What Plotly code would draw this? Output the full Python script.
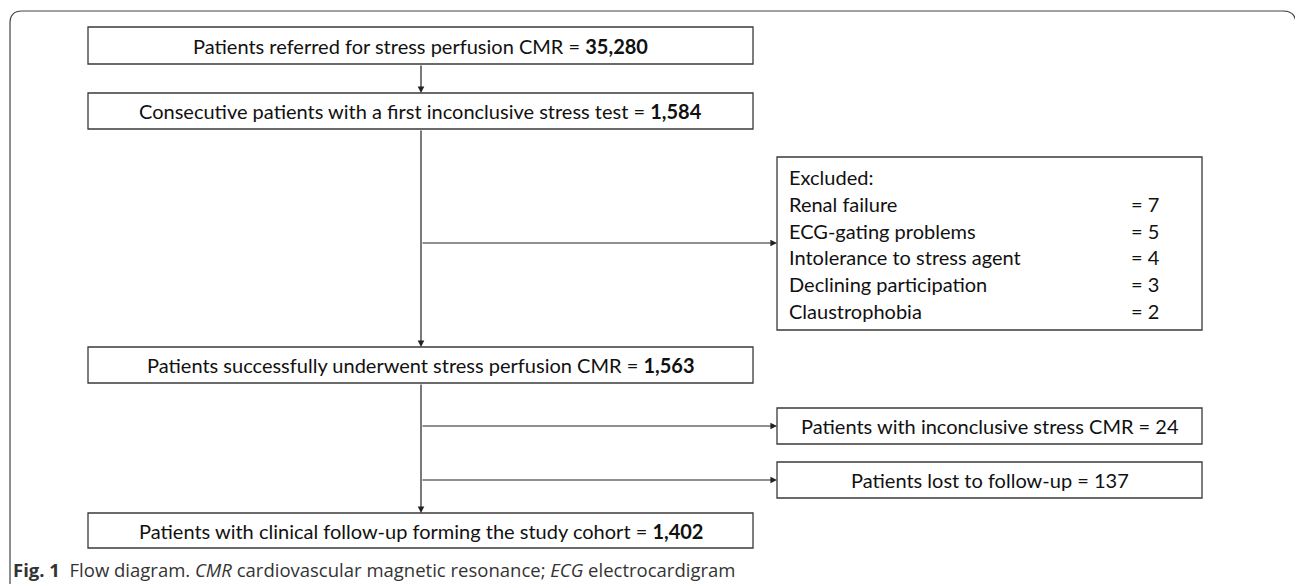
import plotly.graph_objects as go

# ---- data ----
main_labels = [
    "Patients referred for stress perfusion CMR",
    "Consecutive patients with a first inconclusive stress test",
    "Patients successfully underwent stress perfusion CMR",
    "Patients with clinical follow-up forming the study cohort",
]
main_counts = [35280, 1584, 1563, 1402]
excluded_reasons = [
    "Renal failure",
    "ECG-gating problems",
    "Intolerance to stress agent",
    "Declining participation",
    "Claustrophobia",
]
excluded_counts = [7, 5, 4, 3, 2]
side_labels = ["Patients with inconclusive stress CMR", "Patients lost to follow-up"]
side_counts = [24, 137]
caption_bold = "Fig. 1"
caption_text = ("Flow diagram. <i>CMR</i> cardiovascular magnetic resonance; "
                "<i>ECG</i> electrocardigram")

# ---- layout geometry (pixels) ----
W, H = 1295, 584
MAIN_X0, MAIN_X1 = 88, 753
SPINE_X = 421
main_y = [(27, 64), (93, 129), (347, 383), (513, 548)]
SIDE_X0, SIDE_X1 = 777, 1202
excl_y = (157, 330)
excl_arrow_y = 243
side_y = [(408, 444), (462, 498)]
side_arrow_y = [426, 480]
excl_text_x, excl_num_x = 787, 1129
excl_line0, excl_step = 177, 26.8

BOX_FONT = "Lato, Open Sans, sans-serif"
BOX_SIZE = 20
LINE_COL = "#3a3a3a"

fig = go.Figure()
shapes = []
annotations = []

# outer rounded frame (bottom open)
shapes.append(dict(
    type="path",
    path="M 10 590 L 10 23 Q 10 11 22 11 L 1283 11 Q 1296 11 1296 24 L 1296 590",
    line=dict(color="#444", width=1.2), layer="below"))

def box(x0, y0, x1, y1):
    shapes.append(dict(type="rect", x0=x0, y0=y0, x1=x1, y1=y1,
                       line=dict(color=LINE_COL, width=1.3), fillcolor="white"))

def arrow(x0, y0, x1, y1):
    annotations.append(dict(x=x1, y=y1, ax=x0, ay=y0, xref="x", yref="y",
                            axref="x", ayref="y", text="", showarrow=True,
                            arrowhead=2, arrowsize=1.1, arrowwidth=1.2,
                            arrowcolor="#222", standoff=0, startstandoff=0))

# main boxes
for (y0, y1), lab, n in zip(main_y, main_labels, main_counts):
    box(MAIN_X0, y0, MAIN_X1, y1)
    annotations.append(dict(x=(MAIN_X0 + MAIN_X1) / 2, y=(y0 + y1) / 2,
                            xref="x", yref="y", showarrow=False,
                            text=f"{lab} = <b>{n:,}</b>",
                            font=dict(family=BOX_FONT, size=BOX_SIZE, color="#111")))

# vertical flow
arrow(SPINE_X, main_y[0][1], SPINE_X, main_y[1][0])
arrow(SPINE_X, main_y[1][1], SPINE_X, main_y[2][0])
arrow(SPINE_X, main_y[2][1], SPINE_X, main_y[3][0])

# excluded box
box(SIDE_X0, excl_y[0], SIDE_X1, excl_y[1])
arrow(SPINE_X, excl_arrow_y, SIDE_X0, excl_arrow_y)
annotations.append(dict(x=excl_text_x, y=excl_line0, xref="x", yref="y",
                        showarrow=False, xanchor="left", text="Excluded:",
                        font=dict(family=BOX_FONT, size=BOX_SIZE, color="#111")))
for i, (r, c) in enumerate(zip(excluded_reasons, excluded_counts)):
    yy = excl_line0 + excl_step * (i + 1)
    annotations.append(dict(x=excl_text_x, y=yy, xref="x", yref="y",
                            showarrow=False, xanchor="left", text=r,
                            font=dict(family=BOX_FONT, size=BOX_SIZE, color="#111")))
    annotations.append(dict(x=excl_num_x, y=yy, xref="x", yref="y",
                            showarrow=False, xanchor="left", text=f"= {c}",
                            font=dict(family=BOX_FONT, size=BOX_SIZE, color="#111")))

# side boxes
for (y0, y1), ay, lab, n in zip(side_y, side_arrow_y, side_labels, side_counts):
    box(SIDE_X0, y0, SIDE_X1, y1)
    arrow(SPINE_X, ay, SIDE_X0, ay)
    annotations.append(dict(x=(SIDE_X0 + SIDE_X1) / 2, y=(y0 + y1) / 2,
                            xref="x", yref="y", showarrow=False,
                            text=f"{lab} = {n}",
                            font=dict(family=BOX_FONT, size=BOX_SIZE, color="#111")))

# caption
annotations.append(dict(x=11, y=569, xref="x", yref="y", showarrow=False,
                        xanchor="left",
                        text=f"<b>{caption_bold}</b>  {caption_text}",
                        font=dict(family="Open Sans, sans-serif", size=18.5,
                                  color="#333")))

fig.update_layout(
    width=W, height=H,
    margin=dict(l=0, r=0, t=0, b=0),
    paper_bgcolor="white", plot_bgcolor="white",
    xaxis=dict(range=[0, W], visible=False, fixedrange=True),
    yaxis=dict(range=[H, 0], visible=False, fixedrange=True),
    shapes=shapes, annotations=annotations, showlegend=False,
)
fig.write_html("out.html", config={"displayModeBar": False},
               post_script="document.body.style.margin='0';"
                           "document.body.style.overflow='hidden';")
